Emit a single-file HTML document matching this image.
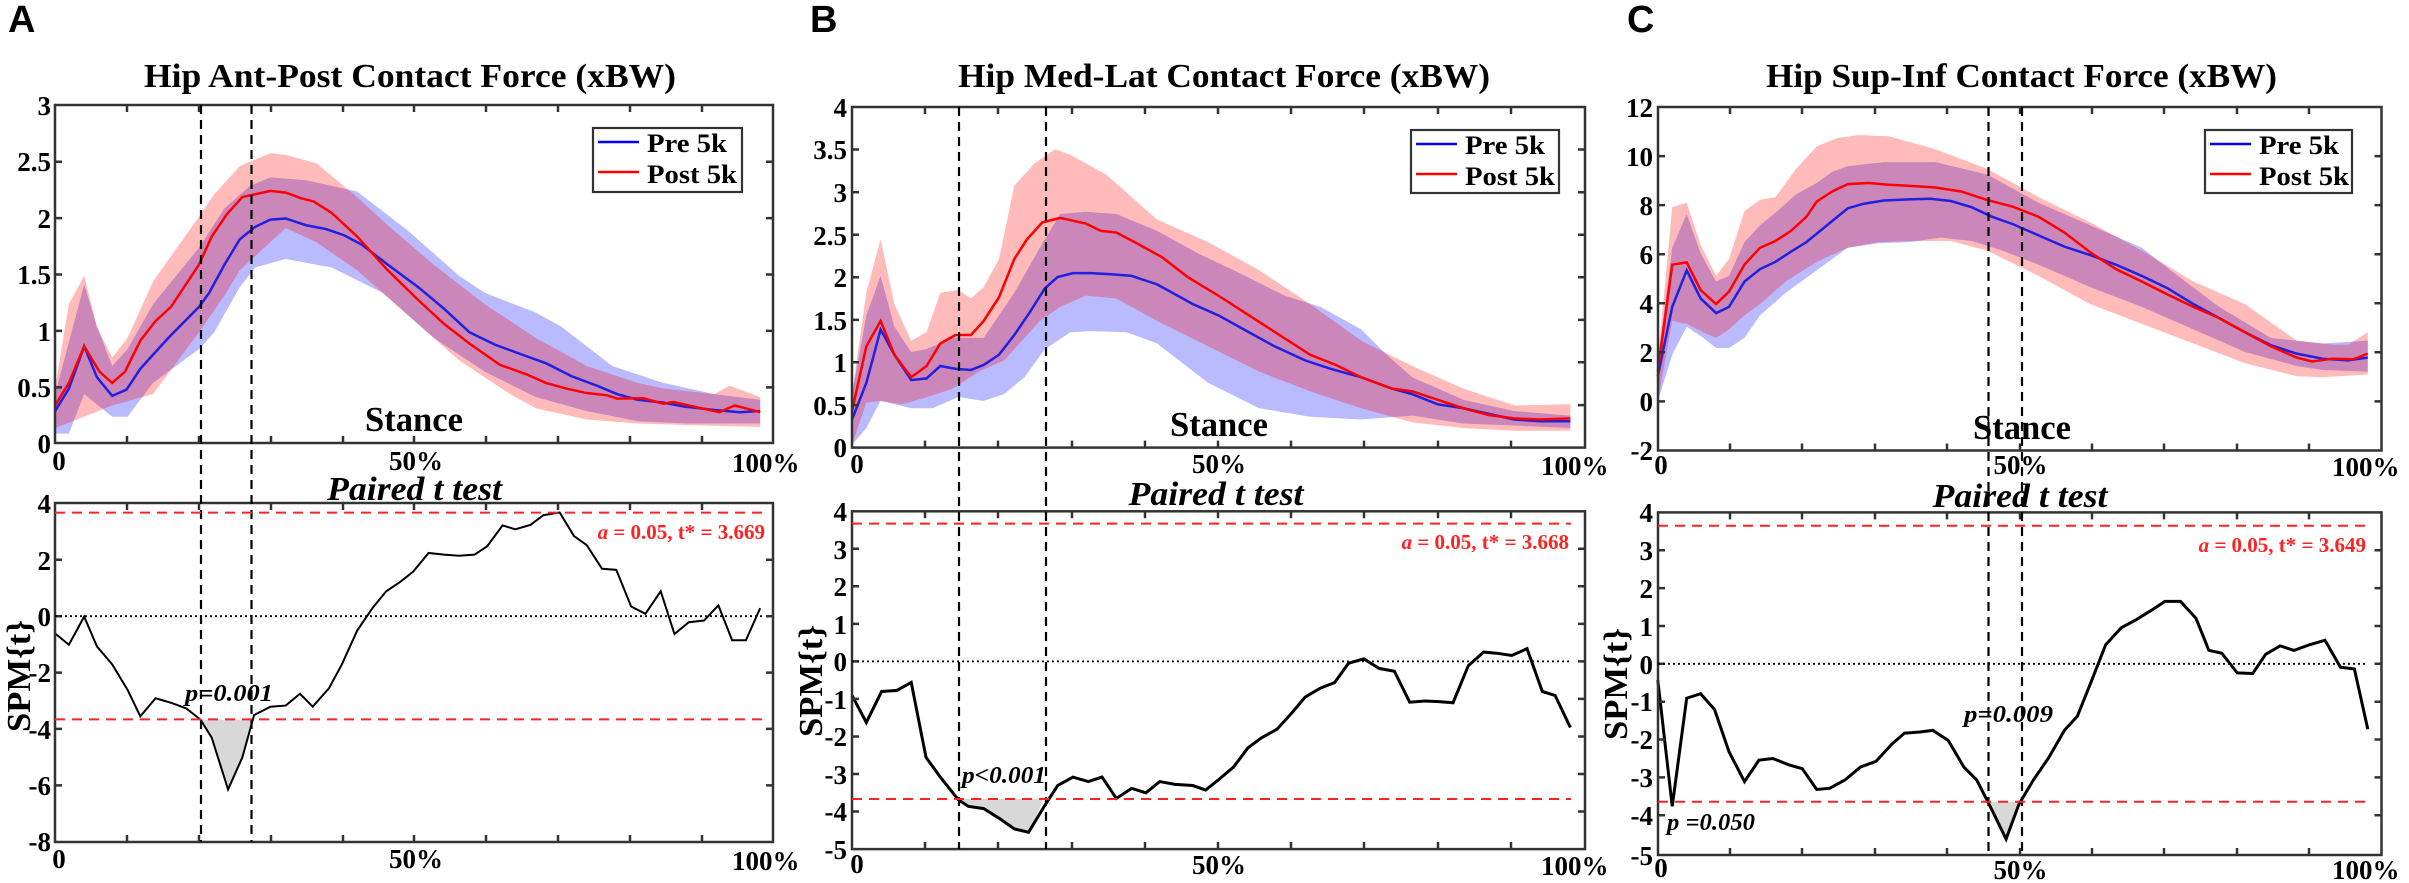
<!DOCTYPE html>
<html><head><meta charset="utf-8"><style>
html,body{margin:0;padding:0;background:#fff;}
svg{display:block;}
text{font-family:"Liberation Serif",serif;font-weight:bold;fill:#000;}
.tk{font-size:27px;}
.ax{fill:none;stroke:#333;stroke-width:2.5;}
.tick{stroke:#333;stroke-width:2.5;}
.vd{stroke:#000;stroke-width:2.2;stroke-dasharray:9 6;}
.rd{stroke:#f22;stroke-width:2;stroke-dasharray:10 7;}
.zd{stroke:#000;stroke-width:1.8;stroke-dasharray:2 3;}
</style></head><body>
<svg width="2409" height="883" viewBox="0 0 2409 883" xmlns="http://www.w3.org/2000/svg">

<!-- ================= PANEL A ================= -->
<text x="8" y="32" style="font-family:'Liberation Sans',sans-serif;font-size:38px">A</text>
<text x="410" y="87" text-anchor="middle" font-size="34" textLength="532" lengthAdjust="spacingAndGlyphs">Hip Ant-Post Contact Force (xBW)</text>
<g transform="scale(0.5102,0.5631)">
  <polygon fill="#0000ff" fill-opacity="0.27" points="108,700 165,505 190,580 220,650 250,620 300,540 390,440 440,370 490,330 530,315 600,320 700,340 800,410 900,490 950,520 1050,555 1100,580 1200,650 1300,680 1400,700 1490,710 1490,752 1350,752 1250,748 1150,730 1050,705 950,660 850,600 750,520 650,475 560,460 500,475 470,510 420,590 390,620 300,680 250,740 220,740 165,700 135,770 108,770"/>
  <polygon fill="#ff0000" fill-opacity="0.27" points="108,690 135,540 165,490 190,580 220,635 250,600 300,500 390,385 420,345 470,295 530,272 560,275 620,290 700,350 760,400 850,470 950,540 1050,600 1150,650 1250,680 1300,690 1400,700 1430,685 1490,705 1490,758 1350,755 1250,752 1150,745 1050,725 1000,700 900,640 800,560 700,480 620,430 560,405 500,455 470,480 440,525 390,590 300,700 220,720 165,740 108,760"/>
  <polyline fill="none" stroke="#2020e0" stroke-width="2.5" vector-effect="non-scaling-stroke" points="108,730 135,690 165,615 190,670 220,703 248,692 275,655 330,600 390,545 410,520 440,470 470,425 500,403 530,390 560,388 600,400 640,407 675,418 710,435 760,470 820,510 870,548 920,590 970,612 1030,632 1070,645 1120,668 1170,685 1210,700 1250,710 1300,715 1340,722 1400,728 1450,732 1490,730"/>
  <polyline fill="none" stroke="#ff0000" stroke-width="2.5" vector-effect="non-scaling-stroke" points="108,720 135,680 165,615 195,660 220,680 245,660 275,605 305,570 335,545 390,470 415,420 445,380 475,350 530,339 560,342 590,352 615,358 650,378 700,420 760,480 820,533 870,575 920,610 980,648 1030,664 1070,680 1110,690 1150,698 1190,702 1210,708 1260,707 1300,717 1320,714 1350,720 1410,732 1440,720 1490,732"/>
  <polygon fill="#d8d8d8" stroke="none" points="393,1278 415,1310 447,1402 475,1345 496,1278"/>
  <polyline fill="none" stroke="#000" stroke-width="2" vector-effect="non-scaling-stroke" points="108,1125 135,1145 165,1095 190,1148 220,1180 250,1225 275,1272 305,1240 335,1248 365,1258 393,1278 415,1310 447,1402 475,1345 498,1270 530,1255 560,1253 588,1232 613,1255 645,1222 670,1180 700,1120 730,1080 757,1050 785,1033 810,1015 840,982 870,985 900,987 930,985 955,970 985,933 1010,940 1040,932 1065,915 1097,910 1125,952 1150,968 1180,1010 1208,1012 1237,1077 1265,1090 1295,1050 1322,1126 1350,1105 1380,1102 1408,1075 1435,1137 1462,1137 1490,1080"/>
</g>
<!-- A axes -->
<rect class="ax" x="55" y="105" width="718" height="338"/>
<rect class="ax" x="55" y="503" width="718" height="339"/>
<g class="tick">
<path d="M127,443v-7M199,443v-7M271,443v-7M343,443v-7M414,443v-7M486,443v-7M558,443v-7M630,443v-7M702,443v-7M127,105v7M199,105v7M271,105v7M343,105v7M414,105v7M486,105v7M558,105v7M630,105v7M702,105v7"/>
<path d="M55,387.4h7M55,330.9h7M55,274.5h7M55,218.1h7M55,161.7h7M773,387.4h-7M773,330.9h-7M773,274.5h-7M773,218.1h-7M773,161.7h-7"/>
<path d="M127,842v-7M199,842v-7M271,842v-7M343,842v-7M414,842v-7M486,842v-7M558,842v-7M630,842v-7M702,842v-7M127,503v7M199,503v7M271,503v7M343,503v7M414,503v7M486,503v7M558,503v7M630,503v7M702,503v7"/>
<path d="M55,559.8h7M55,616.2h7M55,672.6h7M55,728.9h7M55,785.4h7M773,559.8h-7M773,616.2h-7M773,672.6h-7M773,728.9h-7M773,785.4h-7"/>
</g>
<g class="tk" text-anchor="end">
<text x="51" y="453">0</text><text x="51" y="397">0.5</text><text x="51" y="341">1</text><text x="51" y="284">1.5</text><text x="51" y="228">2</text><text x="51" y="171">2.5</text><text x="51" y="115">3</text>
<text x="51" y="513">4</text><text x="51" y="570">2</text><text x="51" y="626">0</text><text x="51" y="682">-2</text><text x="51" y="739">-4</text><text x="51" y="795">-6</text><text x="51" y="851">-8</text>
</g>
<g class="tk">
<text x="59" y="470" text-anchor="middle">0</text><text x="416" y="470" text-anchor="middle">50%</text><text x="732" y="472">100%</text>
<text x="59" y="868" text-anchor="middle">0</text><text x="416" y="868" text-anchor="middle">50%</text><text x="732" y="870">100%</text>
</g>
<line class="vd" x1="201" y1="105" x2="201" y2="842"/><line class="vd" x1="251.5" y1="105" x2="251.5" y2="842"/>
<line class="rd" x1="55" y1="512.6" x2="762" y2="512.6"/><line class="rd" x1="55" y1="719.4" x2="762" y2="719.4"/>
<line class="zd" x1="55" y1="616.2" x2="762" y2="616.2"/>
<rect x="593" y="128" width="149" height="64" fill="#fff" stroke="#333" stroke-width="2.2"/>
<line x1="598" y1="142" x2="639" y2="142" stroke="#00f" stroke-width="2.5"/><line x1="598" y1="172" x2="639" y2="172" stroke="#f00" stroke-width="2.5"/>
<text x="647" y="152" font-size="26" textLength="80" lengthAdjust="spacingAndGlyphs">Pre 5k</text>
<text x="647" y="183" font-size="26" textLength="90" lengthAdjust="spacingAndGlyphs">Post 5k</text>
<text x="414" y="431" text-anchor="middle" font-size="35" textLength="98" lengthAdjust="spacingAndGlyphs">Stance</text>
<text x="414.5" y="500" text-anchor="middle" font-size="34" font-style="italic" textLength="175" lengthAdjust="spacingAndGlyphs">Paired t test</text>
<text x="765" y="539" text-anchor="end" font-size="21" style="fill:#f22"><tspan font-style="italic">a</tspan> = 0.05, t* = 3.669</text>
<text x="185" y="701" font-size="24" font-style="italic" textLength="88" lengthAdjust="spacingAndGlyphs">p=0.001</text>
<text transform="translate(30,676) rotate(-90)" text-anchor="middle" font-size="34" textLength="112" lengthAdjust="spacingAndGlyphs">SPM{t}</text>

<!-- ================= PANEL B ================= -->
<text x="810" y="32" style="font-family:'Liberation Sans',sans-serif;font-size:38px">B</text>
<text x="1224" y="87" text-anchor="middle" font-size="34" textLength="532" lengthAdjust="spacingAndGlyphs">Hip Med-Lat Contact Force (xBW)</text>
<g transform="translate(800,0) scale(0.5102,0.5631)">
  <polygon fill="#0000ff" fill-opacity="0.27" points="102,700 130,560 158,490 185,580 218,625 248,620 300,600 360,600 420,520 470,440 510,380 560,376 620,380 700,410 780,450 850,480 950,525 1020,545 1100,585 1150,630 1200,670 1300,710 1400,730 1510,738 1510,760 1300,752 1200,738 1100,745 1000,740 900,725 800,680 700,610 640,590 570,588 530,590 480,620 440,670 400,700 360,712 310,705 260,725 218,725 158,712 130,760 102,790"/>
  <polygon fill="#ff0000" fill-opacity="0.27" points="102,700 130,520 158,425 185,540 218,605 248,590 275,520 310,515 335,530 360,510 390,460 420,330 460,290 500,265 530,275 600,310 700,390 800,430 900,480 1000,540 1100,605 1200,650 1300,690 1400,720 1510,718 1510,765 1400,765 1300,760 1200,750 1100,725 1000,695 900,660 800,615 700,570 620,530 560,525 510,545 470,570 440,600 400,640 350,660 300,690 250,705 200,718 158,712 130,715 102,790"/>
  <polyline fill="none" stroke="#2020e0" stroke-width="2.5" vector-effect="non-scaling-stroke" points="102,745 130,680 158,585 185,630 218,675 248,672 275,650 305,655 335,657 360,648 390,630 420,595 450,555 480,512 505,492 535,485 570,485 610,487 650,490 700,505 740,525 770,540 820,560 880,590 930,615 990,640 1040,655 1100,670 1160,690 1200,700 1250,718 1300,725 1350,735 1400,745 1450,748 1510,748"/>
  <polyline fill="none" stroke="#ff0000" stroke-width="2.5" vector-effect="non-scaling-stroke" points="102,730 130,615 158,570 185,630 218,670 248,650 275,610 305,595 335,595 360,570 390,528 420,460 445,425 475,395 510,387 560,397 590,410 620,413 660,432 710,457 760,492 820,525 880,560 940,595 1000,630 1050,648 1100,670 1160,690 1200,695 1250,710 1300,725 1350,737 1400,743 1450,745 1510,743"/>
  <polygon fill="#d8d8d8" points="310,1419 330,1432 360,1436 390,1453 420,1472 448,1478 478,1419"/>
  <polyline fill="none" stroke="#000" stroke-width="3" vector-effect="non-scaling-stroke" points="102,1235 130,1283 160,1228 190,1226 218,1212 247,1345 275,1380 310,1420 330,1432 360,1436 390,1453 420,1472 448,1478 480,1430 505,1395 535,1380 565,1388 592,1380 620,1418 650,1400 678,1408 705,1388 735,1393 770,1395 795,1403 820,1385 850,1362 878,1328 905,1310 935,1295 965,1265 990,1238 1020,1222 1048,1212 1075,1178 1105,1170 1135,1187 1165,1192 1195,1247 1225,1245 1252,1246 1280,1248 1310,1182 1340,1158 1365,1160 1395,1164 1425,1152 1455,1228 1480,1235 1510,1292"/>
</g>
<rect class="ax" x="852" y="107" width="733" height="340.6"/>
<rect class="ax" x="852" y="511.3" width="733" height="337.8"/>
<g class="tick">
<path d="M925,447.6v-7M998,447.6v-7M1072,447.6v-7M1145,447.6v-7M1218,447.6v-7M1291,447.6v-7M1364,447.6v-7M1438,447.6v-7M1511,447.6v-7M925,107v7M998,107v7M1072,107v7M1145,107v7M1218,107v7M1291,107v7M1364,107v7M1438,107v7M1511,107v7"/>
<path d="M852,405.1h7M852,362.3h7M852,319.9h7M852,277.3h7M852,234.7h7M852,192.2h7M852,149.5h7M1585,405.1h-7M1585,362.3h-7M1585,319.9h-7M1585,277.3h-7M1585,234.7h-7M1585,192.2h-7M1585,149.5h-7"/>
<path d="M925,849v-7M998,849v-7M1072,849v-7M1145,849v-7M1218,849v-7M1291,849v-7M1364,849v-7M1438,849v-7M1511,849v-7M925,511.3v7M998,511.3v7M1072,511.3v7M1145,511.3v7M1218,511.3v7M1291,511.3v7M1364,511.3v7M1438,511.3v7M1511,511.3v7"/>
<path d="M852,548.8h7M852,586.3h7M852,623.9h7M852,661.4h7M852,698.9h7M852,736.5h7M852,774h7M852,811.5h7M1585,548.8h-7M1585,586.3h-7M1585,623.9h-7M1585,661.4h-7M1585,698.9h-7M1585,736.5h-7M1585,774h-7M1585,811.5h-7"/>
</g>
<g class="tk" text-anchor="end">
<text x="847" y="457">0</text><text x="847" y="415">0.5</text><text x="847" y="372">1</text><text x="847" y="330">1.5</text><text x="847" y="287">2</text><text x="847" y="245">2.5</text><text x="847" y="202">3</text><text x="847" y="159">3.5</text><text x="847" y="117">4</text>
<text x="847" y="521">4</text><text x="847" y="559">3</text><text x="847" y="596">2</text><text x="847" y="634">1</text><text x="847" y="671">0</text><text x="847" y="709">-1</text><text x="847" y="746">-2</text><text x="847" y="784">-3</text><text x="847" y="821">-4</text><text x="847" y="859">-5</text>
</g>
<g class="tk">
<text x="857" y="473" text-anchor="middle">0</text><text x="1219" y="473" text-anchor="middle">50%</text><text x="1541" y="475">100%</text>
<text x="857" y="873" text-anchor="middle">0</text><text x="1219" y="874" text-anchor="middle">50%</text><text x="1541" y="875">100%</text>
</g>
<line class="vd" x1="959" y1="107" x2="959" y2="849"/><line class="vd" x1="1046" y1="107" x2="1046" y2="849"/>
<line class="rd" x1="852" y1="523.6" x2="1571" y2="523.6"/><line class="rd" x1="852" y1="799" x2="1571" y2="799"/>
<line class="zd" x1="852" y1="661.4" x2="1571" y2="661.4"/>
<rect x="1411" y="130" width="148" height="63" fill="#fff" stroke="#333" stroke-width="2.2"/>
<line x1="1416" y1="144" x2="1457" y2="144" stroke="#00f" stroke-width="2.5"/><line x1="1416" y1="174" x2="1457" y2="174" stroke="#f00" stroke-width="2.5"/>
<text x="1465" y="154" font-size="26" textLength="80" lengthAdjust="spacingAndGlyphs">Pre 5k</text>
<text x="1465" y="185" font-size="26" textLength="90" lengthAdjust="spacingAndGlyphs">Post 5k</text>
<text x="1219" y="436" text-anchor="middle" font-size="35" textLength="98" lengthAdjust="spacingAndGlyphs">Stance</text>
<text x="1216" y="505" text-anchor="middle" font-size="34" font-style="italic" textLength="175" lengthAdjust="spacingAndGlyphs">Paired t test</text>
<text x="1569" y="549" text-anchor="end" font-size="21" style="fill:#f22"><tspan font-style="italic">a</tspan> = 0.05, t* = 3.668</text>
<text x="962" y="783" font-size="24" font-style="italic" textLength="84" lengthAdjust="spacingAndGlyphs">p&lt;0.001</text>
<text transform="translate(822,681) rotate(-90)" text-anchor="middle" font-size="34" textLength="112" lengthAdjust="spacingAndGlyphs">SPM{t}</text>

<!-- ================= PANEL C ================= -->
<text x="1627" y="32" style="font-family:'Liberation Sans',sans-serif;font-size:38px">C</text>
<text x="2021.5" y="87" text-anchor="middle" font-size="34" textLength="511" lengthAdjust="spacingAndGlyphs">Hip Sup-Inf Contact Force (xBW)</text>
<g transform="translate(1600,0) scale(0.516,0.5631)">
  <polygon fill="#0000ff" fill-opacity="0.27" points="112,640 140,440 168,380 195,450 225,500 250,490 280,430 310,400 340,378 380,345 420,325 450,305 480,295 550,288 650,288 750,310 850,360 950,400 1050,440 1120,490 1200,545 1300,600 1400,610 1488,605 1488,660 1400,657 1350,650 1250,625 1150,585 1050,545 950,510 850,470 780,445 720,428 660,422 600,430 540,432 480,440 420,480 360,520 310,560 280,600 250,618 225,618 200,600 168,580 140,630 112,713"/>
  <polygon fill="#ff0000" fill-opacity="0.27" points="112,640 140,368 168,360 195,435 225,490 250,460 280,375 310,355 340,350 380,300 420,260 460,245 500,240 560,242 650,265 750,300 850,350 950,395 1050,445 1150,500 1250,540 1350,605 1420,612 1450,612 1488,590 1488,665 1400,670 1350,668 1250,645 1150,610 1050,575 950,540 850,490 750,445 680,428 600,428 540,430 480,440 420,465 360,500 310,540 280,560 250,585 225,600 200,590 168,575 140,570 112,713"/>
  <polyline fill="none" stroke="#2020e0" stroke-width="2.5" vector-effect="non-scaling-stroke" points="112,668 140,545 168,480 195,530 225,556 250,545 280,500 310,478 340,465 370,447 400,430 440,400 480,370 510,362 550,356 600,354 640,353 680,357 720,368 760,385 800,398 850,418 900,438 950,453 1000,470 1050,490 1100,512 1150,540 1200,565 1250,590 1300,613 1350,628 1400,637 1450,640 1488,635"/>
  <polyline fill="none" stroke="#ff0000" stroke-width="2.5" vector-effect="non-scaling-stroke" points="112,660 140,470 168,466 195,515 225,540 250,518 280,470 310,440 340,428 370,410 400,385 420,358 450,340 480,327 520,325 560,328 600,330 650,333 700,340 750,355 800,367 850,385 900,413 950,448 1000,478 1050,500 1100,523 1150,545 1200,565 1250,590 1300,615 1350,635 1380,642 1420,637 1460,638 1488,628"/>
  <polygon fill="#d8d8d8" points="753,1424 787,1490 814,1424"/>
  <polyline fill="none" stroke="#000" stroke-width="3" vector-effect="non-scaling-stroke" points="112,1208 140,1432 168,1240 195,1232 222,1260 250,1335 280,1388 308,1350 335,1347 365,1358 392,1365 420,1402 445,1400 475,1385 505,1362 535,1352 565,1322 590,1302 620,1300 645,1297 675,1315 705,1362 730,1385 755,1430 787,1490 812,1428 840,1385 870,1345 900,1297 925,1272 950,1215 980,1145 1010,1115 1040,1100 1070,1083 1095,1068 1125,1068 1155,1098 1180,1155 1205,1160 1235,1195 1265,1196 1290,1162 1318,1147 1345,1155 1375,1145 1405,1137 1435,1185 1462,1188 1488,1295"/>
</g>
<rect class="ax" x="1658" y="107" width="723.5" height="343.5"/>
<rect class="ax" x="1658" y="512.4" width="723.5" height="342.6"/>
<g class="tick">
<path d="M1730,450.5v-7M1802,450.5v-7M1875,450.5v-7M1947,450.5v-7M2020,450.5v-7M2092,450.5v-7M2164,450.5v-7M2237,450.5v-7M2309,450.5v-7M1730,107v7M1802,107v7M1875,107v7M1947,107v7M2020,107v7M2092,107v7M2164,107v7M2237,107v7M2309,107v7"/>
<path d="M1658,401.4h7M1658,352.3h7M1658,303.3h7M1658,254.2h7M1658,205.1h7M1658,156.1h7M2381.5,401.4h-7M2381.5,352.3h-7M2381.5,303.3h-7M2381.5,254.2h-7M2381.5,205.1h-7M2381.5,156.1h-7"/>
<path d="M1730,855v-7M1802,855v-7M1875,855v-7M1947,855v-7M2020,855v-7M2092,855v-7M2164,855v-7M2237,855v-7M2309,855v-7M1730,512.4v7M1802,512.4v7M1875,512.4v7M1947,512.4v7M2020,512.4v7M2092,512.4v7M2164,512.4v7M2237,512.4v7M2309,512.4v7"/>
<path d="M1658,550.3h7M1658,588.1h7M1658,626h7M1658,663.8h7M1658,701.7h7M1658,739.5h7M1658,777.4h7M1658,815.2h7M2381.5,550.3h-7M2381.5,588.1h-7M2381.5,626h-7M2381.5,663.8h-7M2381.5,701.7h-7M2381.5,739.5h-7M2381.5,777.4h-7M2381.5,815.2h-7"/>
</g>
<g class="tk" text-anchor="end">
<text x="1653" y="460">-2</text><text x="1653" y="411">0</text><text x="1653" y="362">2</text><text x="1653" y="313">4</text><text x="1653" y="264">6</text><text x="1653" y="215">8</text><text x="1653" y="166">10</text><text x="1653" y="117">12</text>
<text x="1653" y="522">4</text><text x="1653" y="560">3</text><text x="1653" y="598">2</text><text x="1653" y="636">1</text><text x="1653" y="674">0</text><text x="1653" y="711">-1</text><text x="1653" y="749">-2</text><text x="1653" y="787">-3</text><text x="1653" y="825">-4</text><text x="1653" y="865">-5</text>
</g>
<g class="tk">
<text x="1661" y="474" text-anchor="middle">0</text><text x="2020.5" y="474" text-anchor="middle">50%</text><text x="2332" y="476">100%</text>
<text x="1661" y="877" text-anchor="middle">0</text><text x="2020.5" y="879" text-anchor="middle">50%</text><text x="2332" y="879">100%</text>
</g>
<line class="vd" x1="1988.5" y1="107" x2="1988.5" y2="855"/><line class="vd" x1="2022" y1="107" x2="2022" y2="855"/>
<line class="rd" x1="1658" y1="525.7" x2="2368" y2="525.7"/><line class="rd" x1="1658" y1="801.8" x2="2368" y2="801.8"/>
<line class="zd" x1="1658" y1="663.8" x2="2368" y2="663.8"/>
<rect x="2205" y="130" width="147" height="63" fill="#fff" stroke="#333" stroke-width="2.2"/>
<line x1="2210" y1="144" x2="2251" y2="144" stroke="#00f" stroke-width="2.5"/><line x1="2210" y1="174" x2="2251" y2="174" stroke="#f00" stroke-width="2.5"/>
<text x="2259" y="154" font-size="26" textLength="80" lengthAdjust="spacingAndGlyphs">Pre 5k</text>
<text x="2259" y="185" font-size="26" textLength="90" lengthAdjust="spacingAndGlyphs">Post 5k</text>
<text x="2022" y="439" text-anchor="middle" font-size="35" textLength="98" lengthAdjust="spacingAndGlyphs">Stance</text>
<text x="2020" y="507" text-anchor="middle" font-size="34" font-style="italic" textLength="175" lengthAdjust="spacingAndGlyphs">Paired t test</text>
<text x="2366" y="552" text-anchor="end" font-size="21" style="fill:#f22"><tspan font-style="italic">a</tspan> = 0.05, t* = 3.649</text>
<text x="1964" y="722" font-size="24" font-style="italic" textLength="89" lengthAdjust="spacingAndGlyphs">p=0.009</text>
<text x="1667" y="830" font-size="24" font-style="italic" textLength="88" lengthAdjust="spacingAndGlyphs">p =0.050</text>
<text transform="translate(1627,684) rotate(-90)" text-anchor="middle" font-size="34" textLength="112" lengthAdjust="spacingAndGlyphs">SPM{t}</text>
</svg>
</body></html>
